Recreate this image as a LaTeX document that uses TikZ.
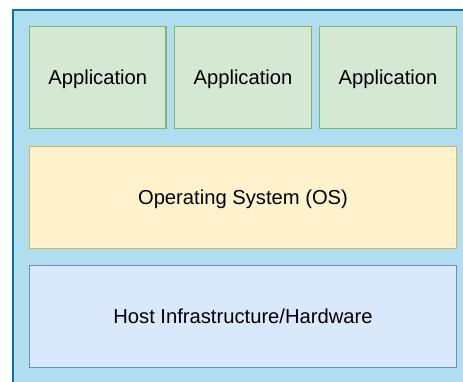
\documentclass[tikz,border=0pt]{standalone}
\usepackage{fontspec}
\setmainfont{Liberation Sans}
\definecolor{outerfill}{HTML}{B1DDF0}
\definecolor{outerline}{HTML}{10739E}
\definecolor{appfill}{HTML}{D5E8D4}
\definecolor{appline}{HTML}{82B366}
\definecolor{osfill}{HTML}{FFF2CC}
\definecolor{osline}{HTML}{D6B656}
\definecolor{hwfill}{HTML}{DAE8FC}
\definecolor{hwline}{HTML}{6C8EBF}
\tikzset{
  layer/.style={draw, line width=1.3pt, inner sep=0pt, font=\fontsize{20.2}{24}\selectfont, text=black, text height=14.4pt, text depth=0pt},
  appbox/.style={layer, fill=appfill, draw=appline},
  osbox/.style={layer, fill=osfill, draw=osline},
  hwbox/.style={layer, fill=hwfill, draw=hwline},
}
\begin{document}
\begin{tikzpicture}[x=1pt,y=-1pt]
\useasboundingbox (0,0) rectangle (463,381);
\clip (0,0) rectangle (463,381);
\fill[white] (0,0) rectangle (463,381);
\draw[line width=1.5pt, draw=outerline, fill=outerfill] (13,10) rectangle (480,400);
\node[appbox, minimum width=136.5pt, minimum height=102.5pt] (app1) at (97.75,77.5) {Application};
\node[appbox, minimum width=136.5pt, minimum height=102.5pt] (app2) at (243,77.5) {Application};
\node[appbox, minimum width=136.5pt, minimum height=102.5pt] (app3) at (388,77.5) {Application};
\node[osbox, minimum width=427pt, minimum height=102pt] (os) at (243,197.5) {Operating System (OS)};
\node[hwbox, minimum width=427pt, minimum height=102pt] (hw) at (243,316.5) {Host Infrastructure/Hardware};
\end{tikzpicture}
\end{document}
